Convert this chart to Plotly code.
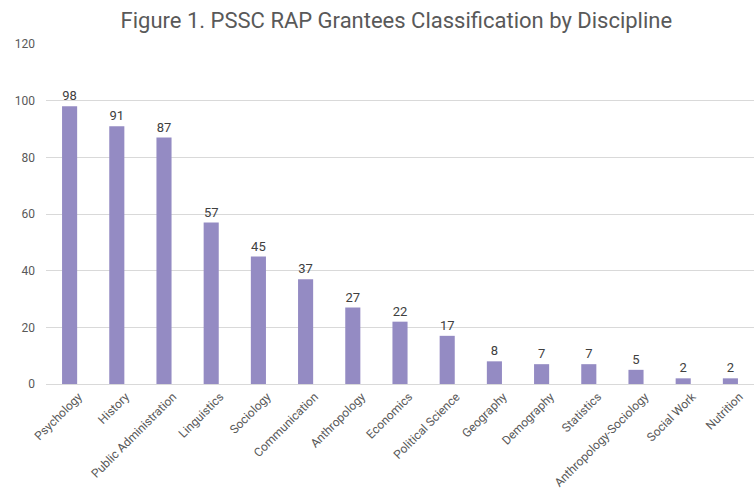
import plotly.graph_objects as go

categories = ["Psychology", "History", "Public Administration", "Linguistics", "Sociology",
              "Communication", "Anthropology", "Economics", "Political Science", "Geography",
              "Demography", "Statistics", "Anthropology-Sociology", "Social Work", "Nutrition"]
values = [98, 91, 87, 57, 45, 37, 27, 22, 17, 8, 7, 7, 5, 2, 2]
y_ticks = [0, 20, 40, 60, 80, 100, 120]

font_family = "Roboto, Liberation Sans, sans-serif"

fig = go.Figure(go.Bar(
    x=categories, y=values,
    marker=dict(color="#948BC3", line=dict(width=0)),
    text=values, textposition="outside",
    textfont=dict(size=13, color="#404040", family=font_family),
    cliponaxis=False,
))

fig.update_layout(
    width=755, height=491,
    margin=dict(l=46, r=1, t=44, b=107, autoexpand=False),
    paper_bgcolor="white", plot_bgcolor="white",
    title=dict(text="Figure 1. PSSC RAP Grantees Classification by Discipline",
               x=0.525, xanchor="center", y=0.959, yanchor="middle",
               font=dict(size=22, color="#595959", family=font_family)),
    bargap=0.68,
    showlegend=False,
    font=dict(family=font_family, color="#595959"),
)
fig.update_xaxes(tickangle=-45, tickfont=dict(size=12, color="#595959"), automargin=False,
                 showline=True, linecolor="#D9D9D9", linewidth=1, ticks="",
                 ticklabelshift=9, ticklabelstandoff=0)
fig.update_yaxes(range=[0, 120], tickvals=y_ticks, showgrid=True, gridcolor="#D9D9D9",
                 gridwidth=1, zeroline=False, tickfont=dict(size=12, color="#595959"),
                 ticks="", ticklabelstandoff=10, automargin=False)

fig.write_html("out.html", config={"displayModeBar": False},
               post_script="document.body.style.margin='0';document.body.style.overflow='hidden';")
